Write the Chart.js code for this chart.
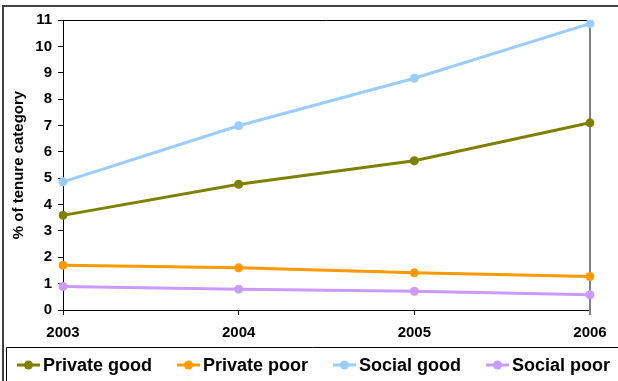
<!DOCTYPE html>
<html>
<head>
<meta charset="utf-8">
<script src="https://cdn.jsdelivr.net/npm/chart.js@4.4.1/dist/chart.umd.min.js"></script>
<style>
  html, body { margin: 0; padding: 0; background: #fff; }
  #wrap { width: 618px; height: 381px; }
</style>
</head>
<body>
<div id="wrap"><canvas id="tenureChart" width="618" height="381"></canvas></div>
<script>
// data
const years = ['2003', '2004', '2005', '2006'];
const privateGood = [3.59, 4.77, 5.66, 7.10];
const privatePoor = [1.70, 1.60, 1.41, 1.27];
const socialGood = [4.86, 6.99, 8.79, 10.86];
const socialPoor = [0.89, 0.79, 0.71, 0.58];
const yTicks = [0, 1, 2, 3, 4, 5, 6, 7, 8, 9, 10, 11];

const FONT = 'Arial, "Liberation Sans", sans-serif';

function series(label, values, color) {
    return {
        label: label,
        data: values,
        borderColor: color,
        backgroundColor: color,
        borderWidth: 3,
        pointRadius: 4.5,
        pointHoverRadius: 4.5,
        pointBorderWidth: 0,
        tension: 0,
        fill: false
    };
}

// frame, plot border and boxed legend like the excel picture
const excelFrame = {
    id: 'excelFrame',
    beforeDatasetsDraw(chart) {
        const ctx = chart.ctx;
        const a = chart.chartArea;
        ctx.save();
        ctx.strokeStyle = '#000';
        ctx.lineWidth = 1;
        ctx.beginPath();
        ctx.moveTo(a.left, a.top + 0.5);
        ctx.lineTo(a.right, a.top + 0.5);
        ctx.stroke();
        ctx.strokeStyle = '#808080';
        ctx.lineWidth = 2;
        ctx.beginPath();
        ctx.moveTo(a.right, a.top);
        ctx.lineTo(a.right, a.bottom + 5);
        ctx.stroke();
        ctx.restore();
    },
    afterDraw(chart) {
        const ctx = chart.ctx;
        ctx.save();
        // outer chart frame (cut off on right and bottom)
        ctx.strokeStyle = '#404040';
        ctx.lineWidth = 2;
        ctx.beginPath();
        ctx.moveTo(3, chart.height);
        ctx.lineTo(3, 6);
        ctx.lineTo(chart.width, 6);
        ctx.stroke();

        // legend box
        ctx.strokeStyle = '#000';
        ctx.lineWidth = 1;
        ctx.beginPath();
        ctx.moveTo(6.5, chart.height);
        ctx.lineTo(6.5, 347.5);
        ctx.lineTo(chart.width, 347.5);
        ctx.stroke();

        // legend items
        ctx.font = 'bold 18px ' + FONT;
        ctx.textBaseline = 'middle';
        ctx.textAlign = 'left';
        const y = 365;
        let x = 17;
        chart.data.datasets.forEach(ds => {
            ctx.strokeStyle = ds.borderColor;
            ctx.fillStyle = ds.borderColor;
            ctx.lineWidth = 3;
            ctx.beginPath();
            ctx.moveTo(x, y);
            ctx.lineTo(x + 23, y);
            ctx.stroke();
            ctx.beginPath();
            ctx.arc(x + 11.5, y, 4.5, 0, Math.PI * 2);
            ctx.fill();
            ctx.fillStyle = '#000';
            ctx.fillText(ds.label, x + 26, y + 1);
            x += 26 + ctx.measureText(ds.label).width + 25;
        });
        ctx.restore();
    }
};

document.addEventListener('DOMContentLoaded', () => {
    const ctx = document.getElementById('tenureChart').getContext('2d');

    new Chart(ctx, {
        type: 'line',
        data: {
            labels: years,
            datasets: [
                series('Private good', privateGood, '#808000'),
                series('Private poor', privatePoor, '#FF9900'),
                series('Social good', socialGood, '#99CCFF'),
                series('Social poor', socialPoor, '#CC99FF')
            ]
        },
        options: {
            responsive: false,
            animation: false,
            events: [],
            layout: {
                padding: { left: 0, top: 20, right: 28, bottom: 34 }
            },
            plugins: {
                legend: { display: false },
                tooltip: { enabled: false }
            },
            scales: {
                x: {
                    offset: false,
                    grid: {
                        drawOnChartArea: false,
                        drawTicks: true,
                        tickLength: 5,
                        color: '#000'
                    },
                    border: { color: '#000', width: 1 },
                    ticks: {
                        color: '#000',
                        padding: 9,
                        maxRotation: 0,
                        font: { family: FONT, size: 15, weight: 'bold' }
                    },
                    afterFit(scale) { scale.height = 37; }
                },
                y: {
                    min: 0,
                    max: 11,
                    afterBuildTicks(scale) {
                        scale.ticks = yTicks.map(v => ({ value: v }));
                    },
                    grid: {
                        drawOnChartArea: false,
                        drawTicks: true,
                        tickLength: 5,
                        color: '#000'
                    },
                    border: { color: '#000', width: 1 },
                    ticks: {
                        color: '#000',
                        padding: 6,
                        font: { family: FONT, size: 15, weight: 'bold' }
                    },
                    title: {
                        display: true,
                        text: '% of tenure category',
                        color: '#000',
                        padding: { top: 10, bottom: 0 },
                        font: { family: FONT, size: 15, weight: 'bold' }
                    },
                    afterFit(scale) { scale.width = 63; }
                }
            }
        },
        plugins: [excelFrame]
    });
});
</script>
</body>
</html>
